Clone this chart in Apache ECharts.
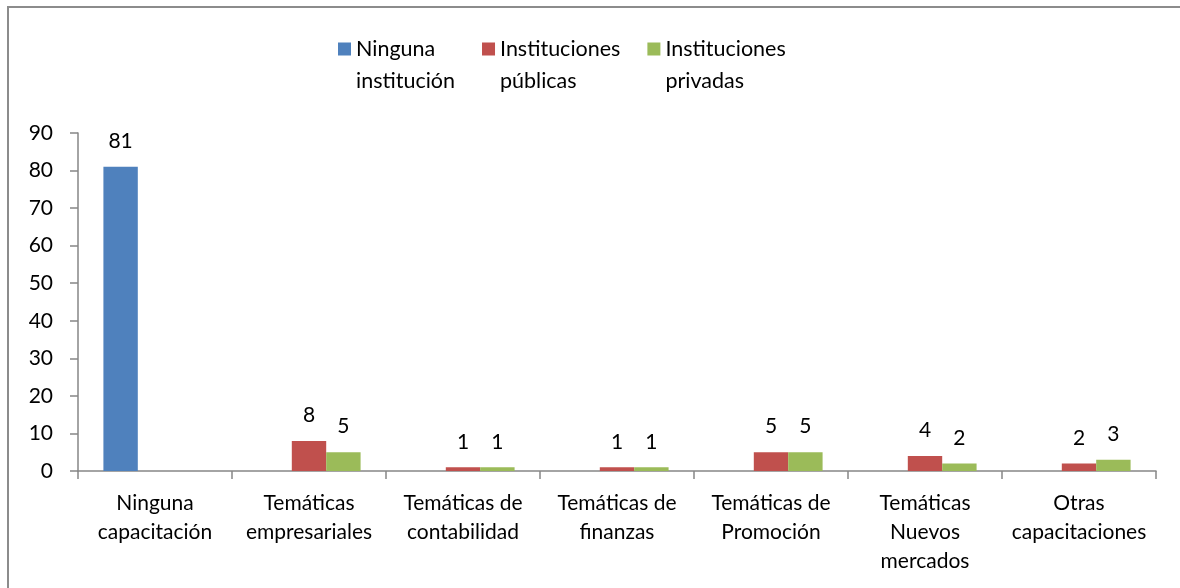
<!DOCTYPE html>
<html>
<head>
<meta charset="utf-8">
<script src="https://cdn.jsdelivr.net/npm/echarts@6/dist/echarts.min.js"></script>
<style>
  html, body { margin: 0; padding: 0; background: #fff; }
  #main { width: 1180px; height: 588px; }
</style>
</head>
<body>
<div id="main"></div>
<script>
var categories = ['Ninguna\ncapacitación', 'Temáticas\nempresariales', 'Temáticas de\ncontabilidad',
    'Temáticas de\nfinanzas', 'Temáticas de\nPromoción', 'Temáticas\nNuevos\nmercados', 'Otras\ncapacitaciones'];
var seriesNames = ['Ninguna\ninstitución', 'Instituciones\npúblicas', 'Instituciones\nprivadas'];
var ninguna = [81, 0, 0, 0, 0, 0, 0];
var publicas = [0, 8, 1, 1, 5, 4, 2];
var privadas = [0, 5, 1, 1, 5, 2, 3];
var yTicks = [0, 10, 20, 30, 40, 50, 60, 70, 80, 90];

var font = 'Lato, "Open Sans", sans-serif';
var axisGray = '#868686';
// square marker sitting on the first line of a two-line legend label
var legendIcon = 'path://M0,0L13,0L13,13L0,13Z M0,44.9L0.1,44.9L0.1,45L0,45Z';

function barSeries(name, data, color) {
    return {
        name: name,
        type: 'bar',
        data: data,
        barGap: 0,
        barCategoryGap: '33%',
        itemStyle: { color: color },
        label: {
            show: true,
            position: 'top',
            distance: 15,
            color: '#000',
            fontFamily: font,
            fontSize: 21,
            formatter: function(p) { return p.value ? p.value : ''; }
        }
    };
}

var myChart = echarts.init(document.getElementById('main'));
var option = {
    animation: false,
    backgroundColor: '#fff',
    graphic: [{
        type: 'rect',
        shape: { x: 8, y: 7, width: 1300, height: 700 },
        style: { fill: 'none', stroke: '#8c8c8c', lineWidth: 2 }
    }],
    legend: {
        top: 33,
        left: 338,
        padding: 0,
        itemGap: 27,
        itemWidth: 13,
        itemHeight: 45,
        icon: legendIcon,
        data: seriesNames,
        textStyle: {
            fontFamily: font,
            fontSize: 21.5,
            lineHeight: 32,
            color: '#000'
        }
    },
    grid: { left: 78, right: 24, top: 133, bottom: 117 },
    xAxis: {
        type: 'category',
        data: categories,
        axisLine: { lineStyle: { color: axisGray, width: 1.5 } },
        axisTick: { show: true, length: 8, lineStyle: { color: axisGray, width: 1.5 } },
        axisLabel: {
            color: '#000', fontFamily: font, fontSize: 21, lineHeight: 29,
            margin: 18, interval: 0
        }
    },
    yAxis: {
        type: 'value',
        min: 0,
        max: yTicks[yTicks.length - 1],
        interval: yTicks[1] - yTicks[0],
        splitLine: { show: false },
        axisLine: { show: true, lineStyle: { color: axisGray, width: 1.5 } },
        axisTick: { show: true, length: 8, lineStyle: { color: axisGray, width: 1.5 } },
        axisLabel: { color: '#000', fontFamily: font, fontSize: 21, margin: 25 }
    },
    series: [
        barSeries(seriesNames[0], ninguna, '#4F81BD'),
        barSeries(seriesNames[1], publicas, '#C0504D'),
        barSeries(seriesNames[2], privadas, '#9BBB59')
    ]
};
myChart.setOption(option);
</script>
</body>
</html>
